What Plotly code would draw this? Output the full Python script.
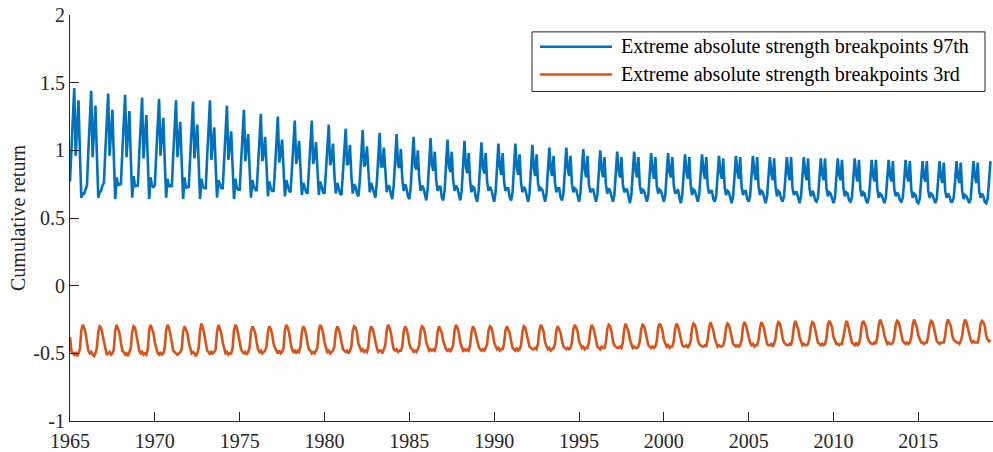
import plotly.graph_objects as go

start_year = 1965
x_tick_values = [1965, 1970, 1975, 1980, 1985, 1990, 1995, 2000, 2005, 2010, 2015]
y_tick_values = [-1, -0.5, 0, 0.5, 1, 1.5, 2]
y_tick_labels = ["-1", "-0.5", "0", "0.5", "1", "1.5", "2"]
series_names = ["Extreme absolute strength breakpoints 97th",
                "Extreme absolute strength breakpoints 3rd"]
y_label = "Cumulative return"

# monthly values, Jan..Dec per row
blue_values = [
    0.77, 1.02, 1.26, 1.46, 0.96, 1.18, 1.37, 0.98, 0.65, 0.68, 0.68, 0.71,  # 1965
    0.74, 1.00, 1.24, 1.44, 0.95, 1.15, 1.33, 0.97, 0.65, 0.69, 0.70, 0.74,  # 1966
    0.76, 1.00, 1.23, 1.42, 0.96, 1.14, 1.30, 0.95, 0.64, 0.80, 0.74, 0.75,  # 1967
    0.75, 0.99, 1.22, 1.41, 0.95, 1.12, 1.29, 0.94, 0.65, 0.81, 0.73, 0.74,  # 1968
    0.74, 0.98, 1.20, 1.39, 0.94, 1.10, 1.26, 0.93, 0.64, 0.80, 0.74, 0.73,  # 1969
    0.74, 0.97, 1.19, 1.38, 0.96, 1.09, 1.24, 0.92, 0.65, 0.79, 0.73, 0.74,  # 1970
    0.73, 0.96, 1.18, 1.37, 0.95, 1.07, 1.21, 0.91, 0.64, 0.80, 0.72, 0.73,  # 1971
    0.73, 0.95, 1.17, 1.36, 0.94, 1.06, 1.19, 0.90, 0.64, 0.79, 0.73, 0.72,  # 1972
    0.72, 0.95, 1.17, 1.37, 0.93, 1.04, 1.17, 0.89, 0.65, 0.78, 0.74, 0.72,  # 1973
    0.72, 0.93, 1.14, 1.33, 0.93, 1.02, 1.14, 0.88, 0.64, 0.79, 0.72, 0.71,  # 1974
    0.71, 0.91, 1.11, 1.30, 0.92, 1.00, 1.12, 0.87, 0.65, 0.78, 0.73, 0.71,  # 1975
    0.70, 0.89, 1.09, 1.27, 0.92, 0.98, 1.10, 0.86, 0.66, 0.77, 0.72, 0.70,  # 1976
    0.70, 0.87, 1.07, 1.25, 0.91, 0.97, 1.08, 0.85, 0.66, 0.78, 0.73, 0.70,  # 1977
    0.69, 0.85, 1.04, 1.22, 0.90, 0.96, 1.07, 0.84, 0.67, 0.76, 0.72, 0.69,  # 1978
    0.68, 0.84, 1.04, 1.22, 0.90, 0.95, 1.06, 0.83, 0.67, 0.77, 0.73, 0.69,  # 1979
    0.68, 0.82, 1.01, 1.19, 0.89, 0.93, 1.05, 0.82, 0.68, 0.76, 0.72, 0.68,  # 1980
    0.67, 0.80, 0.99, 1.16, 0.89, 0.91, 1.04, 0.81, 0.68, 0.75, 0.73, 0.68,  # 1981
    0.66, 0.78, 0.97, 1.15, 0.88, 0.90, 1.03, 0.80, 0.69, 0.76, 0.72, 0.67,  # 1982
    0.65, 0.76, 0.95, 1.13, 0.88, 0.88, 1.02, 0.80, 0.69, 0.74, 0.73, 0.67,  # 1983
    0.64, 0.75, 0.94, 1.12, 0.89, 0.87, 1.01, 0.79, 0.70, 0.75, 0.72, 0.66,  # 1984
    0.64, 0.73, 0.92, 1.10, 0.88, 0.86, 1.00, 0.79, 0.70, 0.74, 0.72, 0.66,  # 1985
    0.63, 0.72, 0.91, 1.09, 0.89, 0.85, 0.99, 0.78, 0.70, 0.73, 0.73, 0.65,  # 1986
    0.63, 0.71, 0.90, 1.08, 0.88, 0.84, 0.99, 0.78, 0.70, 0.74, 0.72, 0.66,  # 1987
    0.63, 0.70, 0.89, 1.07, 0.88, 0.83, 0.98, 0.77, 0.69, 0.73, 0.72, 0.65,  # 1988
    0.62, 0.70, 0.88, 1.06, 0.87, 0.83, 0.98, 0.77, 0.70, 0.73, 0.71, 0.66,  # 1989
    0.62, 0.69, 0.87, 1.05, 0.88, 0.82, 0.98, 0.77, 0.70, 0.72, 0.72, 0.65,  # 1990
    0.63, 0.69, 0.87, 1.05, 0.87, 0.82, 0.97, 0.76, 0.69, 0.73, 0.71, 0.66,  # 1991
    0.62, 0.68, 0.86, 1.04, 0.87, 0.81, 0.97, 0.76, 0.70, 0.72, 0.71, 0.65,  # 1992
    0.62, 0.68, 0.85, 1.02, 0.86, 0.81, 0.96, 0.76, 0.69, 0.72, 0.72, 0.65,  # 1993
    0.63, 0.68, 0.85, 1.02, 0.87, 0.81, 0.96, 0.75, 0.69, 0.72, 0.71, 0.66,  # 1994
    0.62, 0.68, 0.84, 1.01, 0.86, 0.80, 0.96, 0.75, 0.69, 0.71, 0.71, 0.65,  # 1995
    0.62, 0.67, 0.84, 1.00, 0.86, 0.80, 0.95, 0.75, 0.68, 0.72, 0.70, 0.65,  # 1996
    0.62, 0.67, 0.83, 0.99, 0.85, 0.80, 0.95, 0.75, 0.69, 0.71, 0.71, 0.66,  # 1997
    0.61, 0.67, 0.83, 0.99, 0.85, 0.80, 0.95, 0.74, 0.68, 0.71, 0.70, 0.65,  # 1998
    0.62, 0.67, 0.82, 0.98, 0.85, 0.79, 0.95, 0.74, 0.68, 0.71, 0.70, 0.65,  # 1999
    0.62, 0.67, 0.82, 0.98, 0.84, 0.80, 0.95, 0.74, 0.68, 0.70, 0.71, 0.65,  # 2000
    0.61, 0.67, 0.82, 0.97, 0.84, 0.79, 0.95, 0.74, 0.67, 0.71, 0.70, 0.65,  # 2001
    0.62, 0.67, 0.82, 0.97, 0.85, 0.79, 0.95, 0.74, 0.68, 0.70, 0.70, 0.64,  # 2002
    0.62, 0.66, 0.81, 0.96, 0.84, 0.79, 0.94, 0.73, 0.67, 0.70, 0.69, 0.65,  # 2003
    0.61, 0.66, 0.81, 0.96, 0.84, 0.79, 0.95, 0.73, 0.67, 0.70, 0.70, 0.64,  # 2004
    0.62, 0.66, 0.81, 0.96, 0.84, 0.78, 0.95, 0.73, 0.67, 0.70, 0.69, 0.64,  # 2005
    0.61, 0.66, 0.80, 0.95, 0.83, 0.78, 0.94, 0.73, 0.66, 0.70, 0.69, 0.64,  # 2006
    0.62, 0.66, 0.80, 0.95, 0.83, 0.78, 0.95, 0.72, 0.67, 0.69, 0.69, 0.64,  # 2007
    0.61, 0.66, 0.80, 0.95, 0.83, 0.78, 0.94, 0.72, 0.66, 0.70, 0.68, 0.63,  # 2008
    0.62, 0.65, 0.79, 0.94, 0.82, 0.78, 0.94, 0.72, 0.66, 0.69, 0.68, 0.64,  # 2009
    0.61, 0.65, 0.79, 0.94, 0.82, 0.78, 0.93, 0.72, 0.66, 0.69, 0.68, 0.63,  # 2010
    0.62, 0.65, 0.79, 0.94, 0.82, 0.77, 0.93, 0.71, 0.66, 0.69, 0.68, 0.63,  # 2011
    0.61, 0.65, 0.78, 0.93, 0.81, 0.77, 0.93, 0.71, 0.65, 0.68, 0.67, 0.63,  # 2012
    0.61, 0.65, 0.78, 0.93, 0.81, 0.77, 0.92, 0.71, 0.66, 0.69, 0.67, 0.63,  # 2013
    0.62, 0.65, 0.78, 0.93, 0.81, 0.77, 0.92, 0.71, 0.65, 0.68, 0.67, 0.62,  # 2014
    0.61, 0.64, 0.78, 0.92, 0.80, 0.77, 0.92, 0.70, 0.65, 0.68, 0.67, 0.63,  # 2015
    0.61, 0.64, 0.77, 0.92, 0.80, 0.76, 0.91, 0.70, 0.65, 0.68, 0.66, 0.62,  # 2016
    0.62, 0.65, 0.77, 0.92, 0.80, 0.76, 0.91, 0.70, 0.64, 0.67, 0.66, 0.63,  # 2017
    0.61, 0.64, 0.77, 0.92, 0.80, 0.76, 0.91, 0.70, 0.65, 0.68, 0.66, 0.62,  # 2018
    0.61, 0.64, 0.77, 0.92,                                                  # 2019
]

orange_values = [
    -0.38, -0.48, -0.50, -0.51, -0.49, -0.52, -0.50, -0.47, -0.33, -0.29, -0.31, -0.35,  # 1965
    -0.42, -0.48, -0.50, -0.49, -0.51, -0.52, -0.50, -0.46, -0.34, -0.30, -0.31, -0.36,  # 1966
    -0.43, -0.47, -0.51, -0.50, -0.49, -0.51, -0.50, -0.47, -0.33, -0.29, -0.32, -0.35,  # 1967
    -0.42, -0.48, -0.49, -0.51, -0.50, -0.52, -0.49, -0.46, -0.34, -0.30, -0.31, -0.36,  # 1968
    -0.43, -0.48, -0.50, -0.49, -0.51, -0.50, -0.51, -0.47, -0.33, -0.29, -0.32, -0.35,  # 1969
    -0.42, -0.47, -0.50, -0.51, -0.49, -0.51, -0.50, -0.46, -0.33, -0.29, -0.31, -0.36,  # 1970
    -0.43, -0.48, -0.49, -0.50, -0.51, -0.50, -0.49, -0.47, -0.34, -0.30, -0.32, -0.35,  # 1971
    -0.42, -0.47, -0.50, -0.49, -0.50, -0.52, -0.50, -0.46, -0.33, -0.28, -0.31, -0.36,  # 1972
    -0.43, -0.48, -0.49, -0.51, -0.49, -0.50, -0.49, -0.47, -0.34, -0.29, -0.32, -0.35,  # 1973
    -0.42, -0.47, -0.50, -0.49, -0.51, -0.50, -0.50, -0.46, -0.33, -0.29, -0.31, -0.36,  # 1974
    -0.43, -0.47, -0.49, -0.50, -0.49, -0.51, -0.49, -0.46, -0.34, -0.30, -0.32, -0.35,  # 1975
    -0.42, -0.47, -0.49, -0.48, -0.50, -0.49, -0.48, -0.45, -0.34, -0.30, -0.32, -0.36,  # 1976
    -0.43, -0.46, -0.48, -0.50, -0.48, -0.50, -0.49, -0.46, -0.33, -0.29, -0.31, -0.35,  # 1977
    -0.42, -0.47, -0.49, -0.48, -0.50, -0.48, -0.49, -0.45, -0.34, -0.30, -0.32, -0.36,  # 1978
    -0.43, -0.47, -0.48, -0.50, -0.49, -0.50, -0.48, -0.46, -0.33, -0.29, -0.31, -0.35,  # 1979
    -0.42, -0.46, -0.49, -0.48, -0.50, -0.49, -0.48, -0.45, -0.34, -0.30, -0.32, -0.36,  # 1980
    -0.42, -0.47, -0.48, -0.49, -0.48, -0.50, -0.48, -0.45, -0.33, -0.30, -0.31, -0.35,  # 1981
    -0.43, -0.46, -0.48, -0.47, -0.49, -0.48, -0.49, -0.45, -0.34, -0.30, -0.32, -0.36,  # 1982
    -0.42, -0.46, -0.49, -0.48, -0.48, -0.50, -0.47, -0.44, -0.33, -0.29, -0.31, -0.35,  # 1983
    -0.42, -0.47, -0.48, -0.47, -0.49, -0.48, -0.48, -0.45, -0.34, -0.30, -0.32, -0.36,  # 1984
    -0.43, -0.46, -0.47, -0.49, -0.48, -0.49, -0.47, -0.44, -0.33, -0.30, -0.31, -0.35,  # 1985
    -0.42, -0.46, -0.48, -0.47, -0.48, -0.47, -0.48, -0.44, -0.34, -0.30, -0.32, -0.35,  # 1986
    -0.41, -0.45, -0.47, -0.48, -0.47, -0.49, -0.47, -0.44, -0.33, -0.29, -0.31, -0.35,  # 1987
    -0.42, -0.46, -0.48, -0.47, -0.48, -0.47, -0.48, -0.44, -0.34, -0.30, -0.32, -0.36,  # 1988
    -0.41, -0.45, -0.47, -0.48, -0.47, -0.48, -0.46, -0.43, -0.33, -0.30, -0.31, -0.35,  # 1989
    -0.42, -0.45, -0.47, -0.46, -0.48, -0.47, -0.47, -0.43, -0.33, -0.30, -0.32, -0.35,  # 1990
    -0.41, -0.46, -0.47, -0.48, -0.46, -0.48, -0.47, -0.44, -0.34, -0.30, -0.31, -0.35,  # 1991
    -0.41, -0.45, -0.46, -0.47, -0.47, -0.46, -0.47, -0.43, -0.33, -0.29, -0.31, -0.34,  # 1992
    -0.42, -0.45, -0.47, -0.46, -0.48, -0.47, -0.46, -0.43, -0.33, -0.30, -0.32, -0.35,  # 1993
    -0.41, -0.45, -0.46, -0.47, -0.46, -0.47, -0.46, -0.42, -0.32, -0.29, -0.31, -0.34,  # 1994
    -0.41, -0.44, -0.46, -0.45, -0.47, -0.46, -0.46, -0.42, -0.33, -0.29, -0.31, -0.35,  # 1995
    -0.40, -0.45, -0.46, -0.47, -0.45, -0.46, -0.46, -0.42, -0.32, -0.29, -0.30, -0.34,  # 1996
    -0.41, -0.44, -0.45, -0.46, -0.46, -0.45, -0.46, -0.42, -0.32, -0.28, -0.31, -0.34,  # 1997
    -0.40, -0.44, -0.46, -0.45, -0.46, -0.46, -0.45, -0.41, -0.32, -0.29, -0.30, -0.34,  # 1998
    -0.40, -0.44, -0.45, -0.46, -0.45, -0.46, -0.45, -0.41, -0.31, -0.28, -0.30, -0.33,  # 1999
    -0.40, -0.43, -0.45, -0.44, -0.46, -0.45, -0.45, -0.41, -0.32, -0.28, -0.30, -0.34,  # 2000
    -0.39, -0.44, -0.45, -0.45, -0.44, -0.46, -0.44, -0.41, -0.31, -0.28, -0.29, -0.33,  # 2001
    -0.40, -0.43, -0.44, -0.45, -0.45, -0.44, -0.45, -0.40, -0.31, -0.27, -0.30, -0.33,  # 2002
    -0.39, -0.43, -0.45, -0.44, -0.45, -0.45, -0.44, -0.40, -0.31, -0.28, -0.29, -0.33,  # 2003
    -0.39, -0.43, -0.44, -0.45, -0.44, -0.45, -0.44, -0.40, -0.30, -0.27, -0.29, -0.33,  # 2004
    -0.39, -0.42, -0.44, -0.43, -0.45, -0.44, -0.44, -0.40, -0.31, -0.27, -0.29, -0.32,  # 2005
    -0.38, -0.43, -0.44, -0.44, -0.43, -0.45, -0.43, -0.39, -0.30, -0.27, -0.28, -0.32,  # 2006
    -0.39, -0.42, -0.43, -0.44, -0.44, -0.43, -0.44, -0.39, -0.30, -0.26, -0.29, -0.32,  # 2007
    -0.38, -0.42, -0.44, -0.43, -0.44, -0.44, -0.43, -0.39, -0.30, -0.27, -0.28, -0.32,  # 2008
    -0.38, -0.42, -0.43, -0.44, -0.43, -0.44, -0.43, -0.39, -0.29, -0.26, -0.28, -0.31,  # 2009
    -0.38, -0.41, -0.43, -0.43, -0.44, -0.43, -0.43, -0.38, -0.30, -0.26, -0.28, -0.32,  # 2010
    -0.37, -0.42, -0.43, -0.44, -0.42, -0.44, -0.43, -0.38, -0.29, -0.26, -0.28, -0.31,  # 2011
    -0.38, -0.41, -0.42, -0.43, -0.43, -0.42, -0.43, -0.38, -0.29, -0.25, -0.28, -0.31,  # 2012
    -0.37, -0.41, -0.43, -0.42, -0.43, -0.43, -0.42, -0.38, -0.29, -0.26, -0.27, -0.31,  # 2013
    -0.37, -0.41, -0.42, -0.43, -0.42, -0.43, -0.42, -0.38, -0.29, -0.25, -0.28, -0.31,  # 2014
    -0.37, -0.40, -0.42, -0.42, -0.43, -0.42, -0.42, -0.37, -0.29, -0.26, -0.27, -0.31,  # 2015
    -0.36, -0.41, -0.42, -0.43, -0.42, -0.42, -0.42, -0.37, -0.28, -0.25, -0.27, -0.30,  # 2016
    -0.37, -0.40, -0.41, -0.42, -0.42, -0.43, -0.41, -0.37, -0.29, -0.25, -0.27, -0.31,  # 2017
    -0.37, -0.40, -0.42, -0.41, -0.42, -0.42, -0.42, -0.37, -0.28, -0.26, -0.27, -0.30,  # 2018
    -0.37, -0.40, -0.41, -0.40,                                                          # 2019
]

blue_dates = [start_year + i / 12 for i in range(len(blue_values))]
orange_dates = [start_year + i / 12 for i in range(len(orange_values))]

BLUE = "#0072BD"
ORANGE = "#D95319"
AXIS = "#262626"
FONT = "Liberation Serif, Times New Roman, serif"
LW = 2.6

fig = go.Figure()
fig.add_trace(go.Scatter(x=blue_dates, y=blue_values, mode="lines", name=series_names[0],
                         line=dict(color=BLUE, width=LW), showlegend=False))
fig.add_trace(go.Scatter(x=orange_dates, y=orange_values, mode="lines", name=series_names[1],
                         line=dict(color=ORANGE, width=LW), showlegend=False))

L, R, T, B = 70, 0, 15, 28
W, H = 993, 452
pw, ph = W - L - R, H - T - B

def px(xp):
    return (xp - L) / pw

def py(yp):
    return (H - B - yp) / ph

# legend box (drawn by hand to match the MATLAB legend)
shapes = [
    dict(type="rect", xref="paper", yref="paper", x0=px(532), x1=px(985), y0=py(92), y1=py(32),
         line=dict(color=AXIS, width=1), fillcolor="white", layer="above"),
    dict(type="line", xref="paper", yref="paper", x0=px(540), x1=px(612), y0=py(47), y1=py(47),
         line=dict(color=BLUE, width=LW), layer="above"),
    dict(type="line", xref="paper", yref="paper", x0=px(540), x1=px(612), y0=py(75), y1=py(75),
         line=dict(color=ORANGE, width=LW), layer="above"),
]
annotations = [
    dict(text=series_names[0], xref="paper", yref="paper", x=px(619), y=py(47), xanchor="left",
         yanchor="middle", showarrow=False, font=dict(family=FONT, size=20, color="black")),
    dict(text=series_names[1], xref="paper", yref="paper", x=px(619), y=py(75), xanchor="left",
         yanchor="middle", showarrow=False, font=dict(family=FONT, size=20, color="black")),
    dict(text=y_label, xref="paper", yref="paper", x=px(18), y=0.5, xanchor="center",
         yanchor="middle", textangle=-90, showarrow=False,
         font=dict(family=FONT, size=20, color=AXIS)),
]

fig.update_layout(
    width=W, height=H,
    margin=dict(l=L, r=R, t=T, b=B, pad=0),
    paper_bgcolor="white", plot_bgcolor="white",
    font=dict(family=FONT, size=20, color=AXIS),
    shapes=shapes, annotations=annotations,
    xaxis=dict(range=[1965, 2019.4], tickvals=x_tick_values,
               ticktext=[str(v) for v in x_tick_values],
               ticks="inside", ticklen=9, tickcolor=AXIS, tickwidth=1,
               ticklabelstandoff=2,
               showline=True, linecolor=AXIS, linewidth=1, showgrid=False, zeroline=False,
               tickfont=dict(family=FONT, size=20, color=AXIS)),
    yaxis=dict(range=[-1, 2], tickvals=y_tick_values, ticktext=y_tick_labels,
               ticks="inside", ticklen=9, tickcolor=AXIS, tickwidth=1,
               showline=True, linecolor=AXIS, linewidth=1, showgrid=False, zeroline=False,
               tickfont=dict(family=FONT, size=20, color=AXIS)),
)

fig.write_html("out.html")
